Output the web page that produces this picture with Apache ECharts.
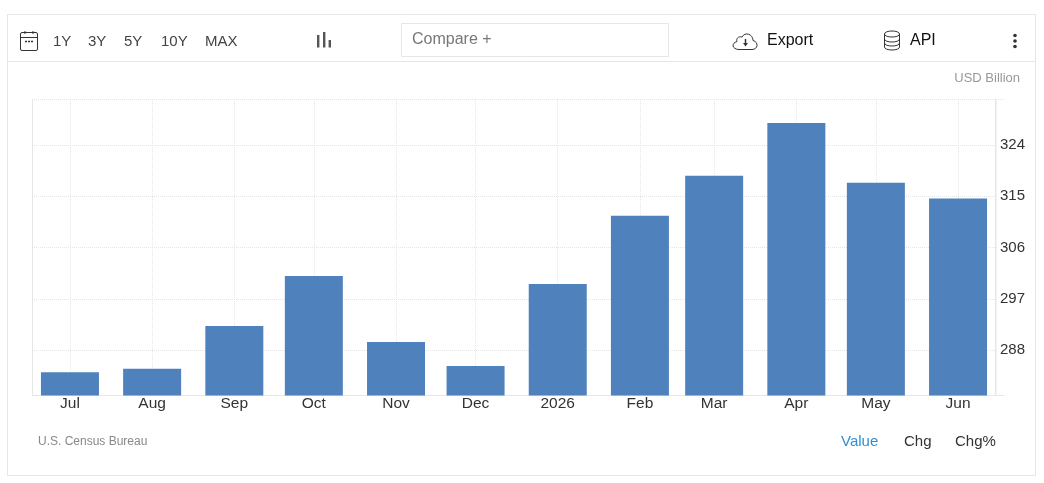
<!DOCTYPE html>
<html><head><meta charset="utf-8">
<style>html,body{margin:0;padding:0;background:#fff}#c{width:1044px;height:483px}</style>
<script src="https://cdn.jsdelivr.net/npm/echarts@6/dist/echarts.min.js"></script>
</head><body><div id="c"></div>
<script>
const dates = ['2025-07-01','2025-08-01','2025-09-01','2025-10-01','2025-11-01','2025-12-01','2026-01-01','2026-02-01','2026-03-01','2026-04-01','2026-05-01','2026-06-01'];
const values = [284.1,284.7,292.2,301.0,289.4,285.2,299.6,311.6,318.6,327.9,317.4,314.6];
const monthNames = ['Jan','Feb','Mar','Apr','May','Jun','Jul','Aug','Sep','Oct','Nov','Dec'];
const rangeLabels = ['1Y','3Y','5Y','10Y','MAX'];
const rangeX = [53,88,124,161,205];
const yTicks = [288,297,306,315,324];
const FONT = '"Liberation Sans", Arial, sans-serif';
const txt = (x,y,text,size,fill,align) => ({type:'text',x,y,silent:true,style:{text,fontSize:size,fill,fontFamily:FONT,align:align||'left',verticalAlign:'middle'}});
const line = (x1,y1,x2,y2,stroke,w) => ({type:'line',silent:true,shape:{x1,y1,x2,y2},style:{stroke,lineWidth:w||1}});
const curve = (x1,y1,cpx1,cpy1,cpx2,cpy2,x2,y2) => ({type:'bezierCurve',silent:true,shape:{x1,y1,cpx1,cpy1,cpx2,cpy2,x2,y2},style:{stroke:'#333',fill:'none',lineWidth:1}});
const chart = echarts.init(document.getElementById('c'),null,{renderer:'canvas'});
const graphic = [
  {type:'rect',silent:true,z:-1,shape:{x:7.5,y:14.5,width:1028,height:461},style:{fill:'#fff',stroke:'#e6e6e6',lineWidth:1}},
  line(8,61.5,1035,61.5,'#e6e6e6'),
  {type:'line',silent:true,shape:{x1:32,y1:99.5,x2:1005,y2:99.5},style:{stroke:'#e6e6e6',lineWidth:1,lineDash:[1,1]}},
  line(32.5,99,32.5,396,'#e6e6e6'),
  line(995.5,99,995.5,396,'#e6e6e6'),
  line(996,395.5,1004,395.5,'#e6e6e6'),
  // calendar icon
  {type:'rect',silent:true,shape:{x:20.5,y:32.5,width:17,height:18,r:1.5},style:{fill:'none',stroke:'#333',lineWidth:1}},
  line(21,37.5,37,37.5,'#333'),line(25,31,25,34,'#333'),line(33,31,33,34,'#333'),
  line(25,41.5,27,41.5,'#333',1.5),line(28,41.5,30,41.5,'#333',1.5),line(31,41.5,33,41.5,'#333',1.5),
  ...rangeLabels.map((t,i)=>txt(rangeX[i],41.5,t,15,'#444')),
  // bar-type icon
  {type:'rect',silent:true,shape:{x:317,y:35,width:2.4,height:12.5},style:{fill:'#555'}},
  {type:'rect',silent:true,shape:{x:323,y:32,width:2.4,height:15.5},style:{fill:'#555'}},
  {type:'rect',silent:true,shape:{x:328.6,y:40,width:2.4,height:7.5},style:{fill:'#555'}},
  // compare box
  {type:'rect',silent:true,shape:{x:401.5,y:23.5,width:267,height:33},style:{fill:'#fff',stroke:'#e6e6e6',lineWidth:1}},
  txt(412,39.5,'Compare +',16,'#777'),
  // export cloud icon
  line(739,49.5,752,49.5,'#333'),
  curve(752,49.5,758,49.5,759,42,753,40.5),
  curve(753,40.5,753,34,745,31.5,742,37),
  curve(742,37,738,36,736,39,737,41.5),
  curve(737,41.5,731,43,732,49.5,739,49.5),
  line(745.5,39,745.5,44,'#333',1.5),
  {type:'polygon',silent:true,shape:{points:[[743,43],[748,43],[745.5,46.5]]},style:{fill:'#333'}},
  txt(767,40.5,'Export',16,'#111'),
  // api database icon
  curve(884.5,34,884.5,30,899.5,30,899.5,34),
  curve(884.5,34,884.5,38,899.5,38,899.5,34),
  curve(884.5,39,884.5,43,899.5,43,899.5,39),
  curve(884.5,43,884.5,47,899.5,47,899.5,43),
  curve(884.5,47,884.5,51,899.5,51,899.5,47),
  line(884.5,34,884.5,47,'#333'),
  line(899.5,34,899.5,47,'#333'),
  txt(910,40.5,'API',16,'#111'),
  {type:'circle',silent:true,shape:{cx:1015,cy:35.5,r:1.8},style:{fill:'#333'}},
  {type:'circle',silent:true,shape:{cx:1015,cy:41,r:1.8},style:{fill:'#333'}},
  {type:'circle',silent:true,shape:{cx:1015,cy:46.5,r:1.8},style:{fill:'#333'}},
  txt(1020,78.5,'USD Billion',13,'#999','right'),
  txt(38,441.5,'U.S. Census Bureau',12,'#888'),
  txt(841,442,'Value',15,'#2e8fd6'),
  txt(904,442,'Chg',15,'#333'),
  txt(955,442,'Chg%',15,'#333')
];
chart.setOption({
  animation:false,
  backgroundColor:'#fff',
  graphic,
  grid:{left:32,right:48,top:99,bottom:87.5,show:false},
  xAxis:{
    type:'time',
    // the bar series widens the time extent by half a bar on each side; these limits leave about Jun 17 - Jun 16 after that
    min:new Date('2025-06-27T15:00:00').getTime(),
    max:new Date('2026-06-04T09:00:00').getTime(),
    minInterval:28*864e5,
    maxInterval:31*864e5,
    axisLine:{show:true,lineStyle:{color:'#e6e6e6'}},
    axisTick:{show:false},
    splitLine:{show:true,lineStyle:{color:'#e6e6e6',type:'dotted'}},
    axisLabel:{
      hideOverlap:false,
      color:'#333',fontSize:15.5,fontFamily:FONT,margin:0,
      formatter:v=>{const d=new Date(v);return d.getMonth()===0?String(d.getFullYear()):monthNames[d.getMonth()];}
    }
  },
  yAxis:{
    type:'value',position:'right',min:280,max:332.1,
    axisLine:{show:false},
    axisTick:{show:false,customValues:yTicks},
    splitLine:{show:true,lineStyle:{color:'#e6e6e6',type:'dotted'}},
    axisLabel:{color:'#333',fontSize:15,fontFamily:FONT,margin:4,padding:[0,0,2,0],customValues:yTicks}
  },
  series:[{type:'bar',data:dates.map((d,i)=>[new Date(d+'T00:00:00').getTime(),values[i]]),barWidth:58,itemStyle:{color:'#4f81bd'},silent:true}]
});
</script></body></html>
